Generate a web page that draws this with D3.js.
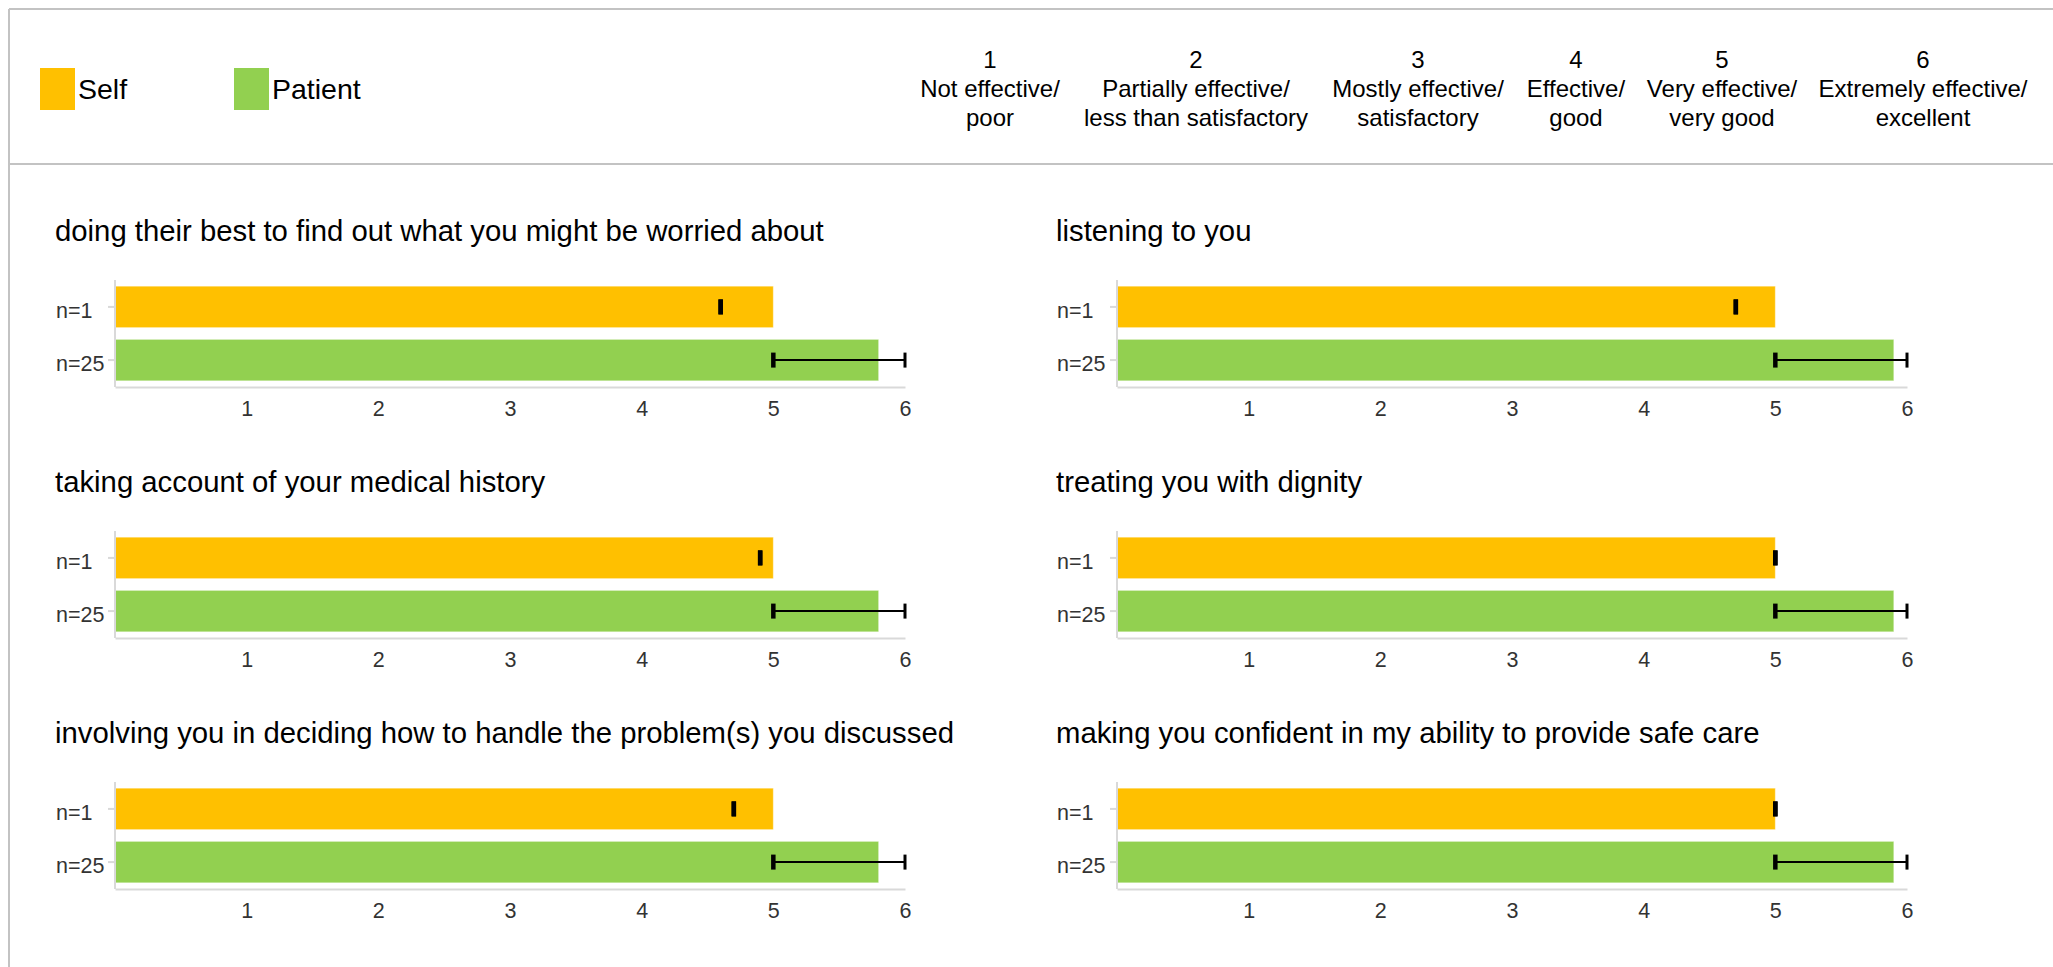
<!DOCTYPE html>
<html>
<head>
<meta charset="utf-8">
<script src="https://cdn.jsdelivr.net/npm/d3@7"></script>
<style>
  body { margin: 0; background: #fff; }
  svg { display: block; font-family: "Liberation Sans", Arial, Helvetica, sans-serif; }
</style>
</head>
<body>
<svg id="chart" width="2053" height="967"></svg>
<script>
// ---- data ----
const questions = [
  "doing their best to find out what you might be worried about",
  "listening to you",
  "taking account of your medical history",
  "treating you with dignity",
  "involving you in deciding how to handle the problem(s) you discussed",
  "making you confident in my ability to provide safe care"
];
const groups = ["n=1", "n=25"];
const seriesNames = ["Self", "Patient"];
const selfValues = [5, 5, 5, 5, 5, 5];
const selfMarks = [4.6, 4.7, 4.9, 5.0, 4.7, 5.0];
const patientValues = [5.8, 5.9, 5.8, 5.9, 5.8, 5.9];
const patientLow = [5, 5, 5, 5, 5, 5];
const patientHigh = [6, 6, 6, 6, 6, 6];
const xTicks = [1, 2, 3, 4, 5, 6];
const scaleNumbers = ["1", "2", "3", "4", "5", "6"];
const scaleLine1 = ["Not effective/", "Partially effective/", "Mostly effective/", "Effective/", "Very effective/", "Extremely effective/"];
const scaleLine2 = ["poor", "less than satisfactory", "satisfactory", "good", "very good", "excellent"];

// ---- style ----
const colors = { Self: "#FFC000", Patient: "#92D050" };
const frameColor = "#c3c3c3";
const axisColor = "#d9d9d9";

const svg = d3.select("#chart");

// frame
svg.append("line").attr("x1", 9).attr("x2", 2053).attr("y1", 9).attr("y2", 9)
  .attr("stroke", frameColor).attr("stroke-width", 2);
svg.append("line").attr("x1", 9).attr("x2", 9).attr("y1", 9).attr("y2", 967)
  .attr("stroke", frameColor).attr("stroke-width", 2);
svg.append("line").attr("x1", 9).attr("x2", 2053).attr("y1", 164).attr("y2", 164)
  .attr("stroke", frameColor).attr("stroke-width", 2);

// legend
const legendX = [40, 234];
seriesNames.forEach((s, i) => {
  svg.append("rect").attr("x", legendX[i]).attr("y", 68).attr("width", 35).attr("height", 42)
    .attr("fill", colors[s]);
  svg.append("text").attr("x", legendX[i] + 38).attr("y", 99)
    .attr("font-size", 28.5).attr("fill", "#000").text(s);
});

// scale description in header
const scaleCenters = [990, 1196, 1418, 1576, 1722, 1923];
scaleNumbers.forEach((n, i) => {
  const g = svg.append("g").attr("transform", `translate(${scaleCenters[i]},0)`)
    .attr("text-anchor", "middle").attr("font-size", 24).attr("fill", "#000");
  g.append("text").attr("y", 68).text(n);
  g.append("text").attr("y", 97).text(scaleLine1[i]);
  g.append("text").attr("y", 126).text(scaleLine2[i]);
});

// panels
const colAxisX = [115, 1117];
const colTitleX = [55, 1056];
const axisW = 790;
const rowStep = 251;

questions.forEach((q, k) => {
  const col = k % 2, row = Math.floor(k / 2);
  const dy = row * rowStep;
  const ax = colAxisX[col];
  const x = d3.scaleLinear().domain([0, 6]).range([ax, ax + axisW]);
  const y = d3.scaleBand().domain(groups).range([283.5 + dy, 383.5 + dy])
    .paddingInner(0.22).paddingOuter(0.05);
  const gP = svg.append("g");

  gP.append("text").attr("x", colTitleX[col]).attr("y", 241 + dy)
    .attr("font-size", 29.3).attr("fill", "#000").text(q);

  // bars
  const bars = [
    { g: groups[0], v: selfValues[k], c: colors.Self },
    { g: groups[1], v: patientValues[k], c: colors.Patient }
  ];
  gP.selectAll("rect.bar").data(bars).join("rect").attr("class", "bar")
    .attr("x", x(0)).attr("y", d => y(d.g))
    .attr("width", d => x(d.v) - x(0)).attr("height", y.bandwidth())
    .attr("fill", d => d.c)
    .attr("stroke", "rgba(255,255,255,0.45)").attr("stroke-width", 1);

  // x axis
  const xAxis = gP.append("g").attr("transform", `translate(0,${387 + dy})`)
    .call(d3.axisBottom(x).tickValues(xTicks).tickFormat(d3.format("d"))
      .tickSize(0).tickPadding(14).tickSizeOuter(0));
  xAxis.select(".domain").attr("stroke", axisColor).attr("stroke-width", 2);
  xAxis.selectAll("text").attr("font-size", 21.5).attr("fill", "#333")
    .attr("font-family", "'Liberation Sans', Arial, sans-serif");

  // y axis
  const yAxis = gP.append("g").attr("transform", `translate(${ax},0)`)
    .call(d3.axisLeft(y).tickSize(7).tickSizeOuter(0).tickPadding(0));
  yAxis.select(".domain").attr("stroke", axisColor).attr("stroke-width", 2)
    .attr("d", `M0,${280 + dy}V${387 + dy}`);
  yAxis.selectAll(".tick line").attr("stroke", axisColor).attr("stroke-width", 2);
  yAxis.selectAll("text").attr("text-anchor", "start")
    .attr("x", colTitleX[col] - ax + 1).attr("dy", "0.5em")
    .attr("font-size", 21.5).attr("fill", "#333")
    .attr("font-family", "'Liberation Sans', Arial, sans-serif");

  // error markers
  const errs = [
    { g: groups[0], lo: selfMarks[k], hi: selfMarks[k] },
    { g: groups[1], lo: patientLow[k], hi: patientHigh[k] }
  ];
  errs.forEach(e => {
    const cy = y(e.g) + y.bandwidth() / 2;
    const eg = gP.append("g").attr("stroke", "#000");
    if (e.hi > e.lo) {
      eg.append("line").attr("x1", x(e.lo)).attr("x2", x(e.hi)).attr("y1", cy).attr("y2", cy)
        .attr("stroke-width", 2);
    }
    eg.append("line").attr("x1", x(e.lo)).attr("x2", x(e.lo))
      .attr("y1", cy - 7.5).attr("y2", cy + 7.5).attr("stroke-width", 4.5);
    eg.append("line").attr("x1", x(e.hi)).attr("x2", x(e.hi))
      .attr("y1", cy - 7.5).attr("y2", cy + 7.5).attr("stroke-width", e.hi > e.lo ? 3 : 4.5);
  });
});
</script>
</body>
</html>
